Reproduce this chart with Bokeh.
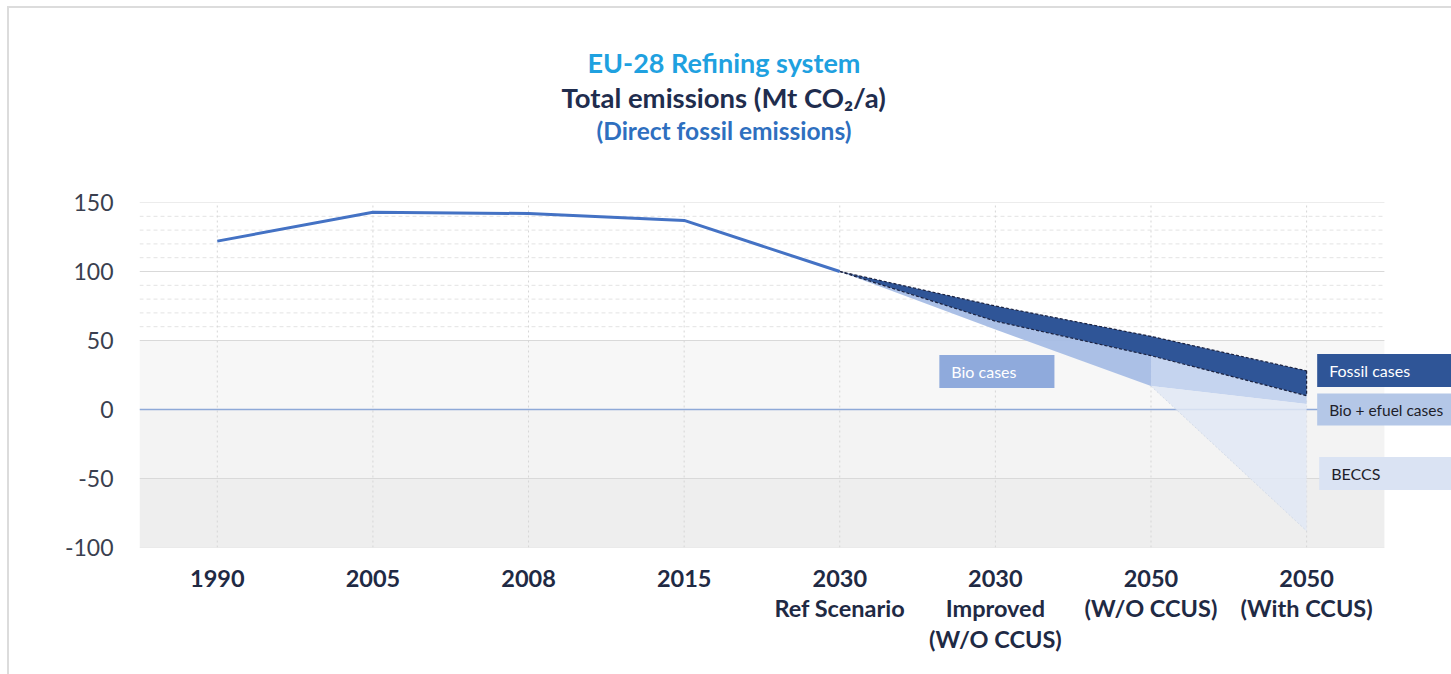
from bokeh.plotting import figure
from bokeh.models import (Title, Label, FixedTicker, Range1d)
from bokeh.embed import file_html
from bokeh.resources import INLINE

# ---------------- data ----------------
categories = ["1990", "2005", "2008", "2015", "2030\nRef Scenario",
              "2030\nImproved\n(W/O CCUS)", "2050\n(W/O CCUS)", "2050\n(With CCUS)"]
historical = [122, 143, 142, 137, 100]          # 1990 .. 2030 Ref
fossil_upper = [100, 75, 53, 28]                # 2030 Ref .. 2050 With CCUS
fossil_lower = [100, 64, 39, 10]
bio_lower = [100, 58, 17, 4]
beccs_lower = [17, -88]                         # 2050 W/O .. 2050 With CCUS
y_ticks = [-100, -50, 0, 50, 100, 150]
y_tick_labels = ["-100", "-50", "0", "50", "100", "150"]

FONT = "Lato"
idx = list(range(len(categories)))
hist_x = idx[:5]
proj_x = idx[4:]
x_lo, x_hi = -0.5, len(categories) - 0.5

p = figure(x_range=Range1d(-0.5, 7.944), y_range=Range1d(-100, 150),
           width=1444, height=668,
           output_backend="svg", toolbar_location=None,
           min_border_left=130, min_border_right=0,
           min_border_top=194, min_border_bottom=129,
           background_fill_color="white", border_fill_color="white",
           outline_line_color=None)
p.margin = (6, 0, 0, 7)
p.styles = {"border-top": "2px solid #dcdcdc", "border-left": "2px solid #dcdcdc"}
p.xgrid.visible = False
p.ygrid.visible = False

# background shading of lower part
p.quad(left=x_lo, right=x_hi, bottom=[0, -50, -100], top=[50, 0, -50],
       fill_color=["#f7f7f7", "#f3f3f3", "#eeeeee"], line_color=None)

# minor dashed grid lines
minor = [v for v in range(60, 150, 10) if v != 100]
p.segment(x0=x_lo, x1=x_hi, y0=minor, y1=minor, line_color="#e3e3e3",
          line_dash="4 3", line_width=1)
# major grid lines
majors = [t for t in y_ticks if t != 0]
p.segment(x0=x_lo, x1=x_hi, y0=majors, y1=majors, line_color="#d9d9d9", line_width=1)
# vertical dotted grid lines
p.segment(x0=idx, x1=idx, y0=-100, y1=150, line_color="#d6d6d6",
          line_dash="2 3", line_width=1)
# zero line
p.segment(x0=x_lo, x1=x_hi, y0=0, y1=0, line_color="#8ea9d8", line_width=1.6)

# bands
p.varea(x=proj_x[:3], y1=fossil_lower[:3], y2=bio_lower[:3], fill_color="#a7bde5", fill_alpha=0.95)
p.varea(x=proj_x[2:], y1=fossil_lower[2:], y2=bio_lower[2:], fill_color="#c2d2ee", fill_alpha=0.95)
p.varea(x=proj_x[2:], y1=bio_lower[2:], y2=beccs_lower, fill_color="#e0e8f5", fill_alpha=0.85)
p.varea(x=proj_x, y1=fossil_upper, y2=fossil_lower, fill_color="#2f5597")

# band edges
p.line(proj_x, fossil_upper, line_color="#1b2240", line_width=1.2, line_dash="3 2")
p.line(proj_x, fossil_lower, line_color="#1b2240", line_width=1.2, line_dash="3 2")
p.line([proj_x[3], proj_x[3]], [fossil_upper[3], fossil_lower[3]],
       line_color="#1b2240", line_width=1.2, line_dash="3 2")
p.line(proj_x[2:], beccs_lower, line_color="#d3dbe8", line_width=1, line_dash="2 2")

# historical line
p.line(hist_x, historical, line_color="#4472c4", line_width=3)

# axes
p.yaxis.ticker = FixedTicker(ticks=y_ticks)
p.yaxis.major_label_overrides = dict(zip(y_ticks, y_tick_labels))
p.yaxis.axis_line_color = None
p.yaxis.major_tick_line_color = None
p.yaxis.minor_tick_line_color = None
p.yaxis.major_label_text_font = FONT
p.yaxis.major_label_text_font_size = "23px"
p.yaxis.major_label_text_color = "#3a3f4f"
p.yaxis.major_label_standoff = 20

p.xaxis.ticker = FixedTicker(ticks=idx)
p.xaxis.major_label_overrides = dict(zip(idx, categories))
p.xaxis.axis_line_color = None
p.xaxis.major_tick_line_color = None
p.xaxis.minor_tick_line_color = None
p.xaxis.major_label_text_font = FONT
p.xaxis.major_label_text_font_size = "23.5px"
p.xaxis.major_label_text_font_style = "bold"
p.xaxis.major_label_text_color = "#1f2a44"
p.xaxis.major_label_text_line_height = 1.1
p.xaxis.major_label_standoff = 10

# titles (later added = farther from plot)
p.add_layout(Title(text=" ", text_font_size="1px", standoff=55), "above")
p.add_layout(Title(text="(Direct fossil emissions)", align="left", offset=457,
                   text_font=FONT, text_font_size="24.5px", text_font_style="bold",
                   text_color="#2e6fbf", standoff=0), "above")
p.add_layout(Title(text="Total emissions (Mt CO\u2082/a)", align="left", offset=422,
                   text_font=FONT, text_font_size="27.5px", text_font_style="bold",
                   text_color="#1f2d4e", standoff=0), "above")
p.add_layout(Title(text="EU-28 Refining system", align="left", offset=448,
                   text_font=FONT, text_font_size="27px", text_font_style="bold",
                   text_color="#1fa1e0", standoff=0), "above")

# legend-like labels (anchor = left edge of the box)
def tag(x, y, text, bg, fg, right_pad, size="16px"):
    p.add_layout(Label(x=x, y=y, text=text, text_font=FONT, text_font_size=size,
                       text_color=fg, text_align="left", text_baseline="middle",
                       background_fill_color=bg, background_fill_alpha=1,
                       padding=dict(left=12, right=right_pad, top=7, bottom=7)))

tag(4.640, 27.5, "Bio cases", "#8faadc", "white", 38)
tag(7.068, 28.3, "Fossil cases", "#2f5597", "white", 80)
tag(7.068, 0, "Bio + efuel cases", "#b4c7e7", "#1e1e2a", 20, "15.5px")
tag(7.081, -46.4, "BECCS", "#dae3f3", "#1e1e2a", 90)

open("out.html", "w").write(file_html(p, INLINE))
